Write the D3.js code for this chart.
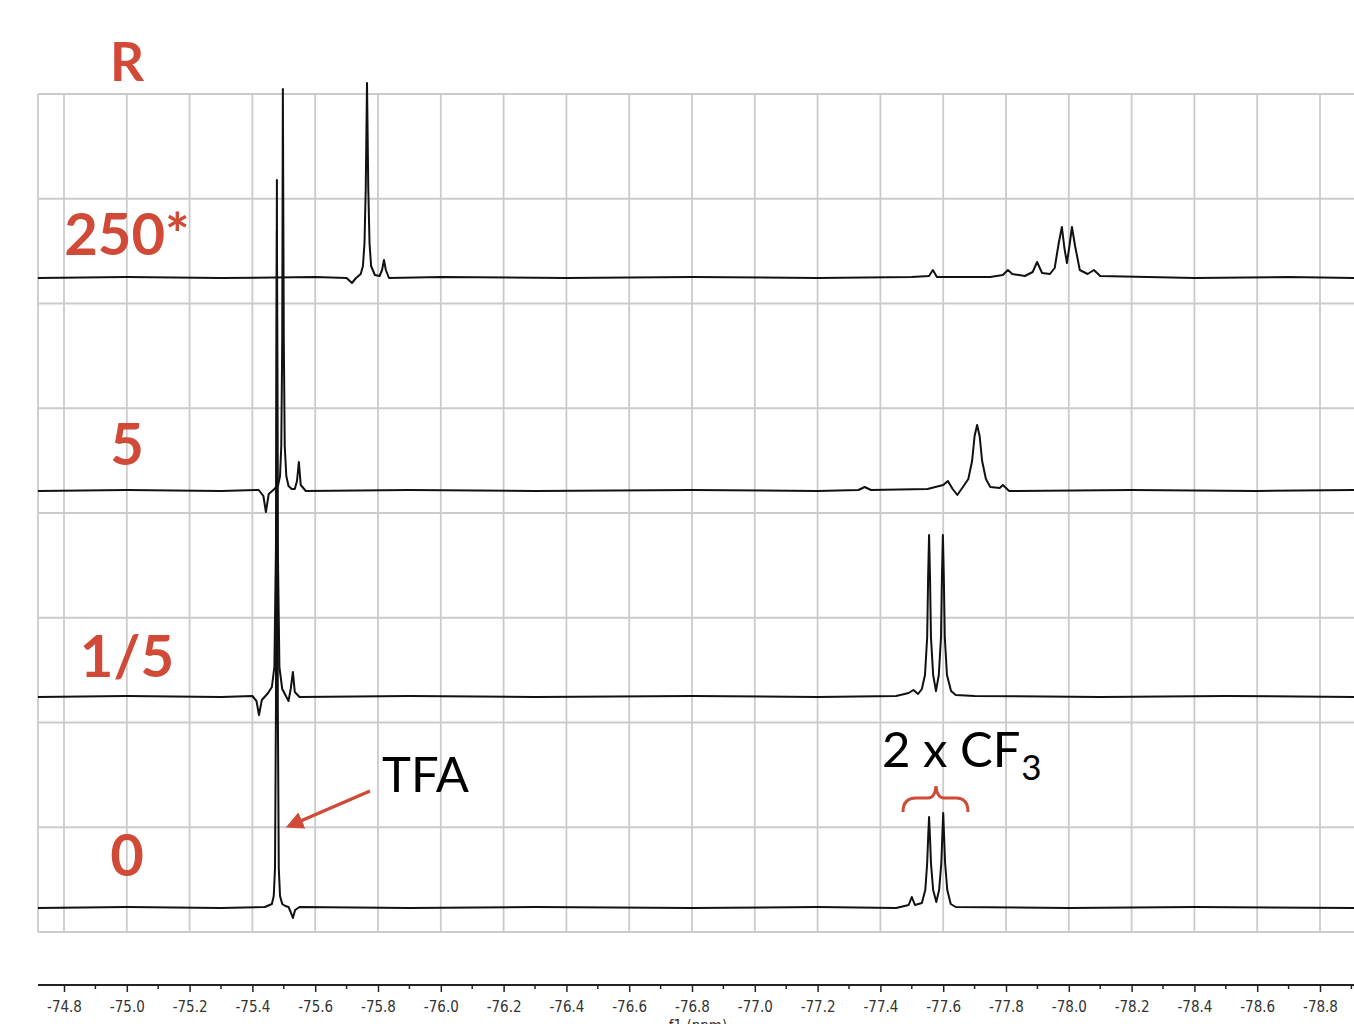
<!DOCTYPE html>
<html>
<head>
<meta charset="utf-8">
<script src="https://cdn.jsdelivr.net/npm/d3@7"></script>
<style>
    body { margin: 0; background: #fff; }
    svg { display: block; }
</style>
</head>
<body>
<div id="chart"></div>
<script>

// axis ticks (ppm)
var majorTicks = [-74.8, -75.0, -75.2, -75.4, -75.6, -75.8, -76.0, -76.2, -76.4, -76.6, -76.8,
                  -77.0, -77.2, -77.4, -77.6, -77.8, -78.0, -78.2, -78.4, -78.6, -78.8];
var minorTicks = [-74.9, -75.1, -75.3, -75.5, -75.7, -75.9, -76.1, -76.3, -76.5, -76.7,
                  -76.9, -77.1, -77.3, -77.5, -77.7, -77.9, -78.1, -78.3, -78.5, -78.7, -78.9];

// row labels, top to bottom
var traceLabels = ["250*", "5", "1/5", "0"];

// spectra: [ppm, intensity]
var trace250 = [
    [-74.717, 0], [-75.00, 1], [-75.30, 0], [-75.60, 1], [-75.70, 0], [-75.717, -5], [-75.73, 0],
    [-75.745, 4], [-75.752, 12], [-75.757, 35], [-75.761, 90], [-75.765, 195], [-75.769, 90],
    [-75.773, 35], [-75.778, 12], [-75.79, 3], [-75.805, 2], [-75.813, 8], [-75.819, 18],
    [-75.825, 8], [-75.835, 0], [-76.00, 1], [-76.40, 0], [-76.80, 1], [-77.20, 0], [-77.50, 1],
    [-77.555, 2], [-77.567, 8], [-77.58, 1], [-77.75, 1], [-77.79, 3], [-77.806, 8], [-77.82, 4],
    [-77.86, 2], [-77.885, 6], [-77.899, 16], [-77.915, 5], [-77.94, 4], [-77.955, 10],
    [-77.968, 35], [-77.978, 51], [-77.986, 30], [-77.994, 15], [-78.002, 32], [-78.010, 51],
    [-78.020, 32], [-78.035, 8], [-78.06, 4], [-78.08, 8], [-78.10, 2], [-78.40, 0], [-78.70, 1],
    [-78.91, 0]
];

var trace5 = [
    [-74.717, 0], [-75.00, 1], [-75.30, 0], [-75.42, 1], [-75.435, -5], [-75.443, -21], [-75.452, -3],
    [-75.47, 2], [-75.482, 6], [-75.488, 15], [-75.492, 45], [-75.495, 150], [-75.497, 402],
    [-75.500, 150], [-75.503, 45], [-75.508, 15], [-75.515, 5], [-75.525, 2], [-75.535, 2],
    [-75.542, 10], [-75.548, 29], [-75.554, 6], [-75.57, 0], [-75.90, 1], [-76.30, 0], [-76.80, 1],
    [-77.20, 0], [-77.33, 1], [-77.35, 4], [-77.37, 1], [-77.55, 2], [-77.60, 6], [-77.615, 10],
    [-77.63, 2], [-77.645, -4], [-77.665, 5], [-77.68, 12], [-77.692, 30], [-77.700, 55],
    [-77.708, 66], [-77.716, 55], [-77.724, 30], [-77.736, 12], [-77.75, 4], [-77.78, 3],
    [-77.79, 6], [-77.81, 0], [-78.20, 1], [-78.60, 0], [-78.91, 1]
];

var traceFifth = [
    [-74.717, 0], [-75.00, 1], [-75.30, 0], [-75.40, 1], [-75.413, -4], [-75.421, -18], [-75.43, -3],
    [-75.45, 4], [-75.462, 10], [-75.47, 30], [-75.475, 150], [-75.478, 467], [-75.481, 150],
    [-75.486, 30], [-75.495, 8], [-75.505, 2], [-75.515, -4], [-75.522, 8], [-75.529, 25],
    [-75.535, 5], [-75.55, 0], [-75.90, 1], [-76.30, 0], [-76.80, 1], [-77.20, 0], [-77.45, 1],
    [-77.49, 4], [-77.505, 7], [-77.52, 3], [-77.532, 8], [-77.542, 22], [-77.549, 60],
    [-77.552, 120], [-77.555, 162], [-77.558, 120], [-77.561, 60], [-77.568, 22], [-77.577, 6],
    [-77.586, 22], [-77.593, 60], [-77.596, 120], [-77.599, 162], [-77.602, 120], [-77.605, 60],
    [-77.612, 22], [-77.625, 6], [-77.64, 2], [-77.70, 1], [-78.10, 0], [-78.50, 1], [-78.91, 0]
];

var trace0 = [
    [-74.717, 0], [-75.00, 1], [-75.30, 0], [-75.44, 1], [-75.462, 4], [-75.468, 12], [-75.472, 40],
    [-75.475, 200], [-75.478, 728], [-75.481, 200], [-75.484, 40], [-75.488, 12], [-75.495, 4],
    [-75.505, 2], [-75.515, 1], [-75.522, -4], [-75.529, -10], [-75.536, -2], [-75.55, 1],
    [-75.90, 0], [-76.30, 1], [-76.80, 0], [-77.20, 1], [-77.45, 0], [-77.49, 3], [-77.50, 11],
    [-77.51, 3], [-77.532, 5], [-77.543, 18], [-77.549, 45], [-77.552, 70], [-77.555, 91],
    [-77.558, 70], [-77.561, 45], [-77.568, 18], [-77.578, 6], [-77.587, 18], [-77.594, 45],
    [-77.597, 70], [-77.600, 95], [-77.603, 70], [-77.606, 45], [-77.613, 18], [-77.624, 4],
    [-77.64, 1], [-78.00, 0], [-78.40, 1], [-78.91, 0]
];

var traces = [trace250, trace5, traceFifth, trace0];

function drawChart() {

    var width = 1354;
    var height = 1024;
    var red = "#d14a37";
    var gridColor = "#cbcbcb";

    var frame = {left: 38, right: 1354, top: 94, bottom: 932};
    var rows = 8;
    var baselines = [278, 491, 697, 908];

    var svg = d3.select("#chart").append("svg")
        .attr("width", width)
        .attr("height", height);

    var x = d3.scaleLinear().domain([-74.8, -78.8]).range([64, 1320]);

    // grid
    var grid = svg.append("g")
        .attr("stroke", gridColor)
        .attr("stroke-width", 1.8);

    grid.selectAll("line.v")
        .data([x.invert(frame.left)].concat(majorTicks))
        .join("line")
        .attr("class", "v")
        .attr("x1", d => x(d))
        .attr("x2", d => x(d))
        .attr("y1", frame.top)
        .attr("y2", frame.bottom);

    var rowH = (frame.bottom - frame.top) / rows;
    grid.selectAll("line.h")
        .data(d3.range(rows + 1))
        .join("line")
        .attr("class", "h")
        .attr("x1", frame.left)
        .attr("x2", frame.right)
        .attr("y1", d => frame.top + d * rowH)
        .attr("y2", d => frame.top + d * rowH);

    // spectra
    traces.forEach(function(data, i) {
        var y = d3.scaleLinear().domain([0, 800]).range([baselines[i], baselines[i] - 800]);
        var line = d3.line()
            .x(d => x(d[0]))
            .y(d => y(d[1]));
        svg.append("path")
            .datum(data)
            .attr("fill", "none")
            .attr("stroke", "#111")
            .attr("stroke-width", 2)
            .attr("stroke-linejoin", "round")
            .attr("d", line);
    });

    // x axis
    var axisY = 985;
    var axis = svg.append("g")
        .attr("transform", "translate(0," + axisY + ")")
        .call(d3.axisBottom(x)
            .tickValues(majorTicks)
            .tickSize(7)
            .tickPadding(9)
            .tickFormat(d => d.toFixed(1)));

    axis.select(".domain").remove();
    axis.selectAll(".tick line").attr("stroke", "#222").attr("stroke-width", 1.5);
    axis.selectAll(".tick text")
        .attr("fill", "#333")
        .style("font-family", "'Liberation Sans Narrow', 'DejaVu Sans Condensed', sans-serif")
        .style("font-size", "15px");

    axis.append("line")
        .attr("x1", frame.left)
        .attr("x2", frame.right)
        .attr("stroke", "#222")
        .attr("stroke-width", 2);

    axis.selectAll("line.minor")
        .data(minorTicks)
        .join("line")
        .attr("class", "minor")
        .attr("x1", d => x(d))
        .attr("x2", d => x(d))
        .attr("y1", 0)
        .attr("y2", 4)
        .attr("stroke", "#222")
        .attr("stroke-width", 1.5);

    // axis title, cut by the bottom edge as in the source
    svg.append("text")
        .attr("x", 698)
        .attr("y", 1031)
        .attr("text-anchor", "middle")
        .attr("fill", "#333")
        .style("font-family", "'Liberation Sans Narrow', 'DejaVu Sans Condensed', sans-serif")
        .style("font-size", "15px")
        .text("f1 (ppm)");

    // red row labels
    var labelFont = "Lato, 'Open Sans', sans-serif";
    svg.append("text")
        .attr("x", 127)
        .attr("y", 81)
        .attr("text-anchor", "middle")
        .attr("fill", red)
        .style("font-family", labelFont)
        .style("font-weight", "bold")
        .style("font-size", "53px")
        .text("R");

    var labelY = [255, 465, 677, 876];
    svg.selectAll("text.row")
        .data(traceLabels)
        .join("text")
        .attr("class", "row")
        .attr("x", 127)
        .attr("y", (d, i) => labelY[i])
        .attr("text-anchor", "middle")
        .attr("fill", red)
        .style("font-family", labelFont)
        .style("font-weight", "bold")
        .style("font-size", "58px")
        .text(d => d);

    // TFA annotation
    var noteFont = "Lato, 'Open Sans', sans-serif";
    svg.append("text")
        .attr("x", 382)
        .attr("y", 792)
        .attr("fill", "#000")
        .style("font-family", noteFont)
        .style("font-size", "49px")
        .text("TFA");

    svg.append("defs").append("marker")
        .attr("id", "head")
        .attr("viewBox", "0 0 10 10")
        .attr("refX", 8)
        .attr("refY", 5)
        .attr("markerWidth", 5)
        .attr("markerHeight", 5)
        .attr("orient", "auto")
        .append("path")
        .attr("d", "M0,0 L10,5 L0,10 z")
        .attr("fill", red);

    svg.append("line")
        .attr("x1", 370)
        .attr("y1", 791)
        .attr("x2", 289)
        .attr("y2", 826)
        .attr("stroke", red)
        .attr("stroke-width", 3.5)
        .attr("marker-end", "url(#head)");

    // 2 x CF3 annotation
    var cf = svg.append("text")
        .attr("x", 882)
        .attr("y", 767)
        .attr("fill", "#000")
        .style("font-family", noteFont)
        .style("font-size", "49px");
    cf.append("tspan").text("2 x CF");
    cf.append("tspan")
        .attr("dy", 13)
        .attr("dx", 1)
        .style("font-size", "35px")
        .text("3");

    svg.append("path")
        .attr("d", "M903,812 Q903,798 916,798 L928,798 Q935,798 936,786 Q937,798 944,798 L956,798 Q968,798 968,812")
        .attr("fill", "none")
        .attr("stroke", red)
        .attr("stroke-width", 3);

}

drawChart();
</script>
</body>
</html>
